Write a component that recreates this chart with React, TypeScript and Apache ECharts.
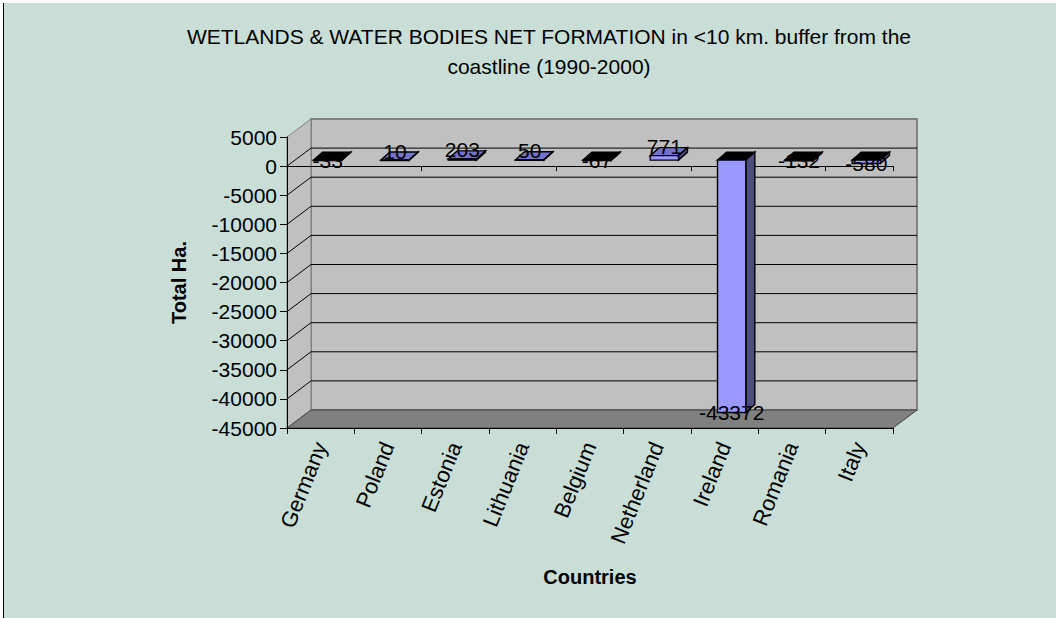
import React, { useEffect, useRef } from "react";
import * as echarts from "echarts";

const categories = ["Germany", "Poland", "Estonia", "Lithuania", "Belgium", "Netherland", "Ireland", "Romania", "Italy"];
const values = [-33, 10, 203, 50, -67, 771, -43372, -132, -580];
const yTicks = [5000, 0, -5000, -10000, -15000, -20000, -25000, -30000, -35000, -40000, -45000];
const titleText = "WETLANDS & WATER BODIES NET FORMATION in <10 km. buffer from the\ncoastline (1990-2000)";
const yName = "Total Ha.";
const xName = "Countries";

const Y_MAX = 5000;
const Y_MIN = -45000;
const DX = 24; // wall depth
const DY = -18;
const SX = 7; // bar row shift in depth
const SY = -6;
const BX = 9; // bar depth
const BY = -8;
const FONT = "'Liberation Sans', Arial, Helvetica, sans-serif";

export default function App() {
  const ref = useRef<HTMLDivElement>(null);
  useEffect(() => {
    if (!ref.current) return;
    const chart = echarts.init(ref.current, undefined, { renderer: "svg" });

    const frameItem = (params: any, api: any) => {
      const yTop = api.coord([0, Y_MAX])[1];
      const yBot = api.coord([0, Y_MIN])[1];
      const band = api.size([1, 0])[0];
      const xL = api.coord([0, 0])[0] - band / 2;
      const xR = api.coord([categories.length - 1, 0])[0] + band / 2;
      const children: any[] = [];
      children.push({
        type: "rect",
        shape: { x: xL + DX, y: yTop + DY, width: xR - xL, height: yBot - yTop },
        style: { fill: "#C0C0C0", stroke: "#808080", lineWidth: 2 },
      });
      children.push({
        type: "polygon",
        shape: { points: [[xL, yTop], [xL + DX, yTop + DY], [xL + DX, yBot + DY], [xL, yBot]] },
        style: { fill: "#C0C0C0", stroke: "#808080", lineWidth: 1 },
      });
      yTicks.forEach((t) => {
        if (t === Y_MAX || t === Y_MIN) return;
        const y = api.coord([0, t])[1];
        children.push({
          type: "polyline",
          shape: { points: [[xL, y], [xL + DX, y + DY], [xR + DX, y + DY]] },
          style: { fill: null, stroke: "#000", lineWidth: 1 },
        });
      });
      children.push({
        type: "polygon",
        shape: { points: [[xL, yBot], [xR, yBot], [xR + DX, yBot + DY], [xL + DX, yBot + DY]] },
        style: { fill: "#808080", stroke: "#404040", lineWidth: 1 },
      });
      return { type: "group", children };
    };

    const barItem = (params: any, api: any) => {
      const idx = api.value(0);
      const v = api.value(1);
      const [cx, y0] = api.coord([idx, 0]);
      const y1 = api.coord([idx, v])[1];
      const band = api.size([1, 0])[0];
      const w = band * 0.42;
      const x0 = cx + SX - w / 2;
      const x1 = x0 + w;
      const yA = Math.min(y0, y1) + SY;
      const yB = Math.max(y0, y1) + SY;
      const stroke = { stroke: "#000", lineWidth: 1.4 };
      return {
        type: "group",
        children: [
          {
            type: "polygon",
            shape: { points: [[x0, yA], [x1, yA], [x1 + BX, yA + BY], [x0 + BX, yA + BY]] },
            style: { fill: v < 0 ? "#000000" : "#7373C8", ...stroke },
          },
          {
            type: "polygon",
            shape: { points: [[x1, yA], [x1 + BX, yA + BY], [x1 + BX, yB + BY], [x1, yB]] },
            style: { fill: "#4D4D80", ...stroke },
          },
          {
            type: "rect",
            shape: { x: x0, y: yA, width: w, height: Math.max(yB - yA, 0.5) },
            style: { fill: "#9999FF", ...stroke },
          },
          {
            type: "text",
            style: {
              x: cx + SX,
              y: v < 0 ? y1 + SY : y1 + SY - 9,
              text: String(v),
              fill: "#000",
              fontSize: 21,
              fontFamily: FONT,
              align: "center",
              verticalAlign: "middle",
            },
          },
        ],
      };
    };

    chart.setOption({
      animation: false,
      backgroundColor: "transparent",
      textStyle: { fontFamily: FONT },
      graphic: {
        elements: [
          {
            type: "text",
            x: 549,
            y: 51,
            style: {
              text: titleText,
              fill: "#000",
              fontSize: 21,
              lineHeight: 30,
              fontFamily: FONT,
              align: "center",
              verticalAlign: "middle",
            },
          },
        ],
      },
      grid: { left: 287, right: 163, top: 137, bottom: 190, containLabel: false },
      xAxis: [
        {
          type: "category",
          data: categories,
          position: "bottom",
          z: 3,
          boundaryGap: true,
          axisLine: { onZero: false, lineStyle: { color: "#000", width: 1 } },
          axisTick: { show: true, length: 6, alignWithLabel: false, lineStyle: { color: "#000" } },
          axisLabel: { interval: 0, rotate: 68, margin: 15, fontSize: 22, color: "#000", fontFamily: FONT },
          name: xName,
          nameLocation: "middle",
          nameGap: 139,
          nameTextStyle: { fontSize: 20, fontWeight: "bold", color: "#000", fontFamily: FONT },
          splitLine: { show: false },
        },
        {
          type: "category",
          data: categories,
          position: "bottom",
          z: 3,
          boundaryGap: true,
          axisLine: { onZero: true, onZeroAxisIndex: 0, lineStyle: { color: "#000", width: 1 } },
          axisTick: { show: true, length: 5, alignWithLabel: false, lineStyle: { color: "#000" } },
          axisLabel: { show: false },
          splitLine: { show: false },
        },
      ],
      yAxis: {
        type: "value",
        min: Y_MIN,
        max: Y_MAX,
        interval: 5000,
        z: 3,
        axisLine: { show: true, lineStyle: { color: "#000", width: 1 } },
        axisTick: { show: true, length: 7, lineStyle: { color: "#000" } },
        axisLabel: { fontSize: 21, color: "#000", margin: 10, fontFamily: FONT, formatter: (v: number) => String(v) },
        splitLine: { show: false },
        name: yName,
        nameLocation: "middle",
        nameGap: 98,
        nameTextStyle: { fontSize: 20, fontWeight: "bold", color: "#000", fontFamily: FONT },
      },
      series: [
        {
          type: "custom",
          name: "frame",
          z: 1,
          silent: true,
          clip: false,
          renderItem: frameItem,
          data: [[0, 0]],
          encode: { x: 0, y: 1 },
        },
        {
          type: "custom",
          name: "Net formation",
          z: 5,
          clip: false,
          renderItem: barItem,
          data: values.map((v, i) => [i, v]),
          encode: { x: 0, y: 1 },
        },
      ],
    });
    return () => chart.dispose();
  }, []);

  return (
    <div style={{ position: "fixed", left: 0, top: 0, width: 1056, height: 618, background: "#fff", overflow: "hidden" }}>
      <div
        style={{
          position: "absolute",
          left: 3,
          top: 3,
          width: 1053,
          height: 615,
          background: "#C8DED6",
          borderLeft: "1px solid #000",
          boxSizing: "border-box",
        }}
      />
      <div ref={ref} style={{ position: "absolute", left: 0, top: 0, width: 1056, height: 618 }} />
    </div>
  );
}
